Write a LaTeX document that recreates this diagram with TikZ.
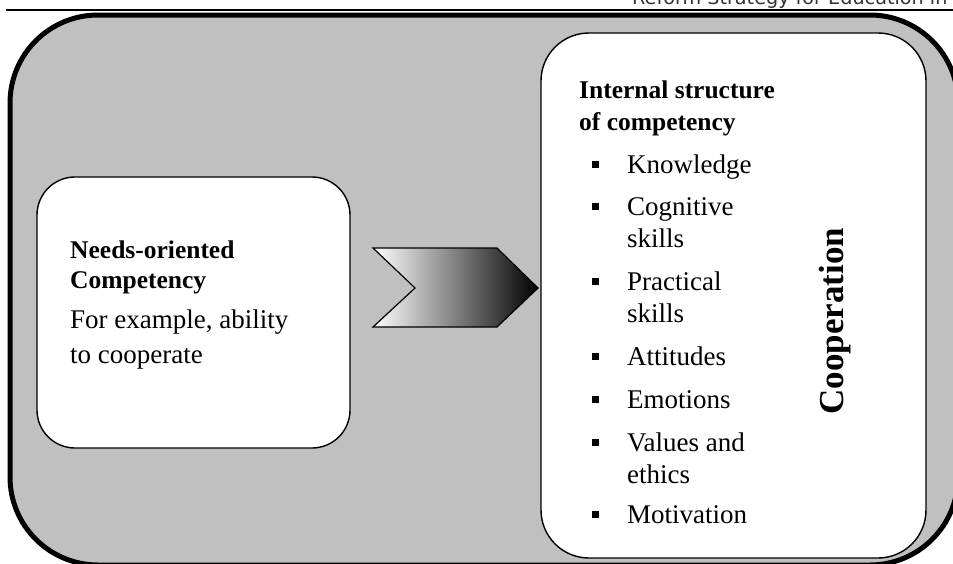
\documentclass[tikz,border=0pt]{standalone}
\usepackage{fontspec}
\setmainfont{Liberation Serif}
\newfontfamily\headfont{DejaVu Sans}
\definecolor{boxgray}{HTML}{C0C0C0}
\tikzset{
  panel/.style={draw=black,line width=1.4pt,fill=white,inner sep=0pt},
  headline/.style={anchor=base west,inner sep=0pt,font=\bfseries\fontsize{25.5}{30}\selectfont},
  itemline/.style={anchor=base west,inner sep=0pt,font=\fontsize{27}{32}\selectfont},
  bulletbox/.style={fill=black,inner sep=0pt,minimum size=7pt}
}
\begin{document}
\begin{tikzpicture}[x=1pt,y=-1pt]
	\useasboundingbox (0,0) rectangle (953,563);
	% page header
	\node[anchor=base west,inner sep=0pt,text=black!80,font=\headfont\fontsize{19.2}{22}\selectfont] (header) at (632,4.5) {Reform Strategy for Education in};
	\draw[line width=2pt] (6,9.5) -- (960,9.5);
	% outer frame
	\draw[line width=5pt,fill=boxgray,rounded corners=88pt] (10,15) rectangle (958,565);
	% left box
	\node[panel,rounded corners=38pt,minimum width=313pt,minimum height=271pt] (needs) at (193.5,312.5) {};
	\node[headline] (needsA) at (70,258) {Needs-oriented};
	\node[headline] (needsB) at (70,288) {Competency};
	\node[itemline] (needsC) at (70,328) {For example, ability};
	\node[itemline] (needsD) at (70,363) {to cooperate};
	% chevron
	\draw[line width=1.2pt,left color=white,right color=black]
		(373,248) -- (497,248) -- (538,288) -- (497,327) -- (373,327) -- (415,288) -- cycle;
	% right box
	\node[panel,rounded corners=48pt,minimum width=385pt,minimum height=525pt] (inner) at (733.5,295.5) {};
	\node[headline] (titleA) at (579,98) {Internal structure};
	\node[headline] (titleB) at (579,130) {of competency};
	\foreach \y/\txt in {173/Knowledge,215/Cognitive,290/Practical,365/Attitudes,408/Emotions,451/Values and,523/Motivation}{
		\node[bulletbox] at (595,\y-9) {};
		\node[itemline] at (627,\y) {\txt};
	}
	\foreach \y/\txt in {247/skills,322/skills,483/ethics}
		\node[itemline] at (627,\y) {\txt};
	\node[rotate=90,anchor=base,inner sep=0pt,font=\bfseries\fontsize{35}{40}\selectfont] (coop) at (843,321) {Cooperation};
\end{tikzpicture}
\end{document}
